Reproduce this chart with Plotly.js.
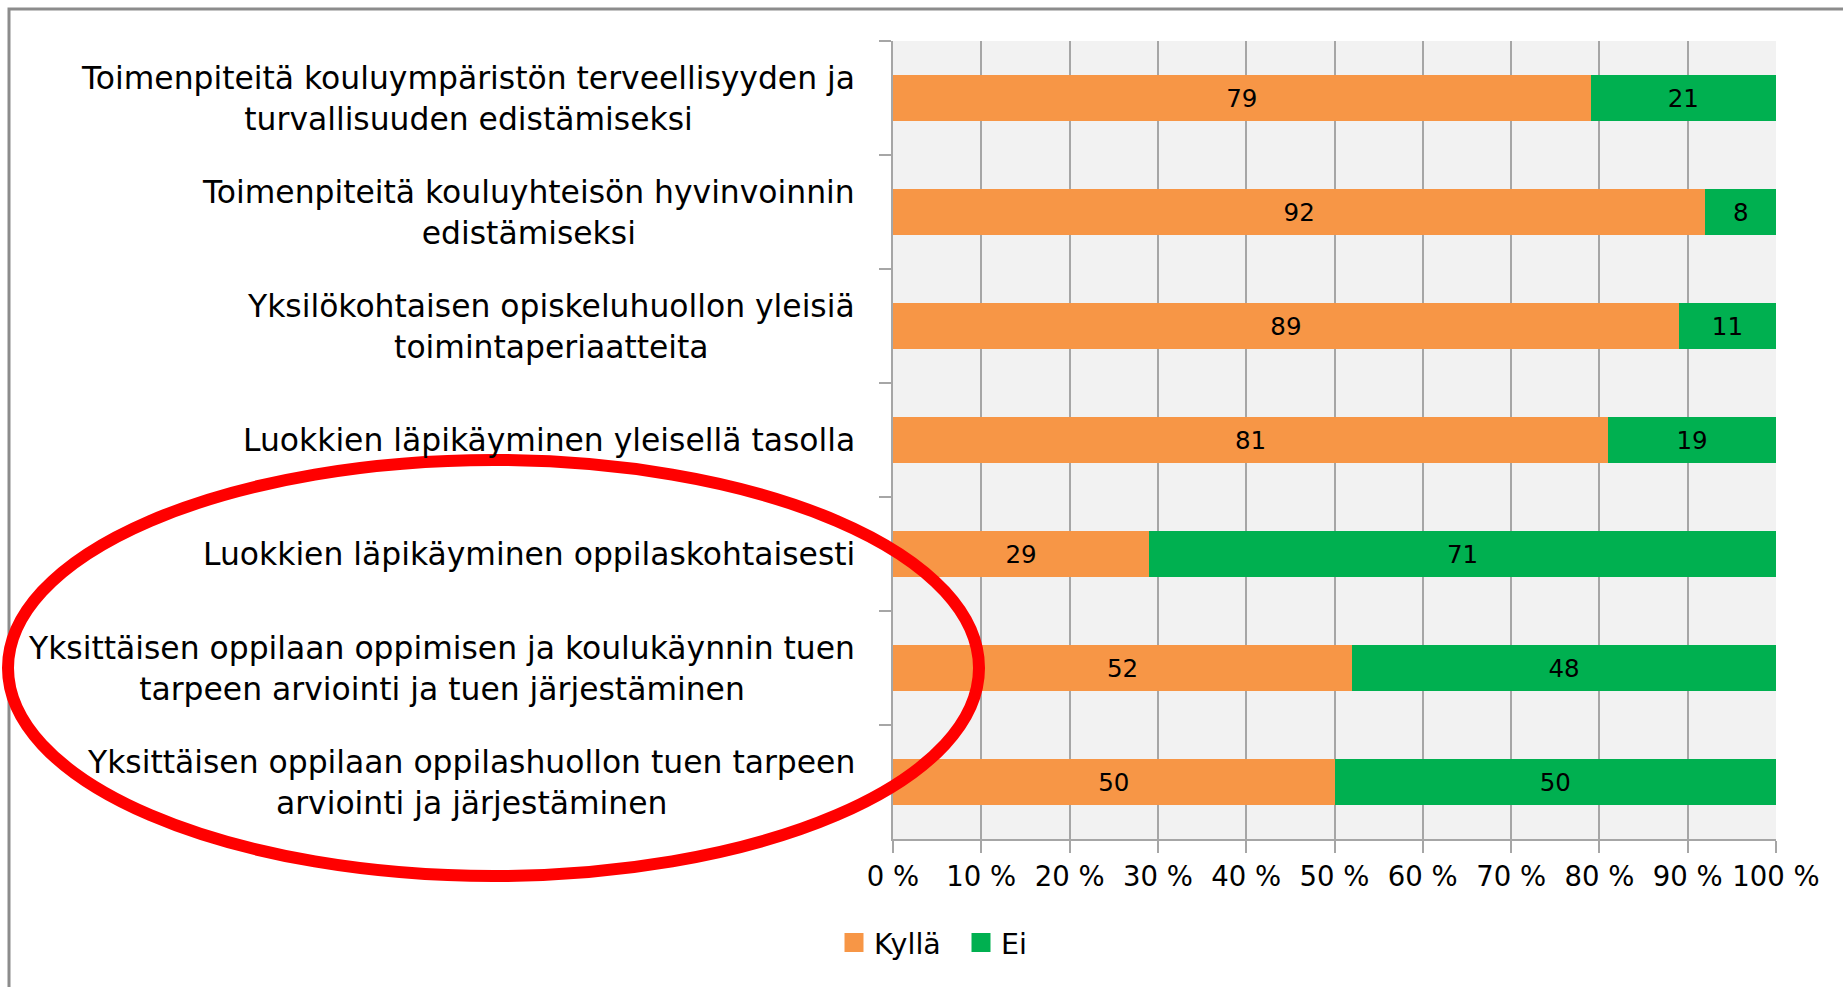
<!DOCTYPE html>
<html>
<head>
<meta charset="utf-8">
<script src="https://cdn.plot.ly/plotly-3.0.1.min.js"></script>
<style>
html,body{margin:0;padding:0;background:#fff;}
#chart{width:1843px;height:987px;}
</style>
</head>
<body>
<div id="chart"></div>
<script>
const categories = [
  "Toimenpiteitä kouluympäristön terveellisyyden ja<br>turvallisuuden edistämiseksi",
  "Toimenpiteitä kouluyhteisön hyvinvoinnin<br>edistämiseksi",
  "Yksilökohtaisen opiskeluhuollon yleisiä<br>toimintaperiaatteita",
  "Luokkien läpikäyminen yleisellä tasolla",
  "Luokkien läpikäyminen oppilaskohtaisesti",
  "Yksittäisen oppilaan oppimisen ja koulukäynnin tuen<br>tarpeen arviointi ja tuen järjestäminen",
  "Yksittäisen oppilaan oppilashuollon tuen tarpeen<br>arviointi ja järjestäminen"
];
const kylla = [79, 92, 89, 81, 29, 52, 50];
const ei = [21, 8, 11, 19, 71, 48, 50];
const xTickVals = [0, 10, 20, 30, 40, 50, 60, 70, 80, 90, 100];
const xTickText = ["0 %", "10 %", "20 %", "30 %", "40 %", "50 %", "60 %", "70 %", "80 %", "90 %", "100 %"];
const seriesNames = ["Kyllä", "Ei"];
const seriesColors = ["#F79646", "#00B050"];

const W = 1843, H = 987;
const M = {l: 893, r: 67, t: 41, b: 148};
const PW = W - M.l - M.r, PH = H - M.t - M.b;
const px = x => (x - M.l) / PW;
const py = y => (H - M.b - y) / PH;

const FONT = "'DejaVu Sans', Verdana, sans-serif";

const barTrace = (vals, i) => ({
  type: 'bar', orientation: 'h', name: seriesNames[i], showlegend: false,
  y: categories, x: vals, text: vals.map(String),
  textposition: 'inside', insidetextanchor: 'middle',
  textfont: {family: FONT, size: 24.5, color: '#000'},
  marker: {color: seriesColors[i]}, hoverinfo: 'x+name'
});
const legendTrace = i => ({
  type: 'scatter', mode: 'markers', name: seriesNames[i], showlegend: true,
  x: [null], y: [null],
  marker: {symbol: 'square', size: 16, color: seriesColors[i], line: {color: seriesColors[i], width: 3}}
});

const traces = [barTrace(kylla, 0), barTrace(ei, 1), legendTrace(0), legendTrace(1)];

const annotations = categories.map(c => ({
  xref: 'paper', yref: 'y', x: 0, y: c, xshift: -36,
  xanchor: 'right', yanchor: 'middle', align: 'center',
  text: c, showarrow: false,
  font: {family: FONT, size: 31.4, color: '#000'}
}));

const layout = {
  width: W, height: H,
  margin: M,
  barmode: 'stack', bargap: 0.6,
  paper_bgcolor: '#fff', plot_bgcolor: '#F2F2F2',
  font: {family: FONT, color: '#000'},
  xaxis: {
    range: [0, 100], tickvals: xTickVals, ticktext: xTickText,
    showgrid: true, gridcolor: '#A6A6A6', gridwidth: 2,
    zeroline: false, showline: true, linecolor: '#A6A6A6', linewidth: 2,
    ticks: 'outside', ticklen: 12, tickcolor: '#A6A6A6', tickwidth: 2,
    tickfont: {family: FONT, size: 27.5, color: '#000'}, fixedrange: true
  },
  yaxis: {
    type: 'category', categoryorder: 'array', categoryarray: categories,
    autorange: 'reversed', showticklabels: false,
    showgrid: false, zeroline: false, showline: true, linecolor: '#A6A6A6', linewidth: 2,
    ticks: 'outside', tickson: 'boundaries', ticklen: 12, tickcolor: '#A6A6A6', tickwidth: 2,
    fixedrange: true
  },
  legend: {
    orientation: 'h', x: px(834), xanchor: 'left', y: py(943), yanchor: 'middle',
    font: {family: FONT, size: 28.5, color: '#000'}, traceorder: 'normal',
    itemwidth: 30, entrywidth: 82, entrywidthmode: 'pixels'
  },
  annotations: annotations,
  shapes: [
    {type: 'rect', xref: 'paper', yref: 'paper', layer: 'below',
     x0: px(9), x1: px(1860), y0: py(1010), y1: py(9),
     line: {color: '#8C8C8C', width: 3}, fillcolor: 'rgba(0,0,0,0)'},
    {type: 'circle', xref: 'paper', yref: 'paper', layer: 'above',
     x0: px(8), x1: px(979), y0: py(876), y1: py(460),
     line: {color: '#FF0000', width: 12}, fillcolor: 'rgba(0,0,0,0)'}
  ],
  showlegend: true
};

Plotly.newPlot('chart', traces, layout, {displayModeBar: false, staticPlot: true});
</script>
</body>
</html>
